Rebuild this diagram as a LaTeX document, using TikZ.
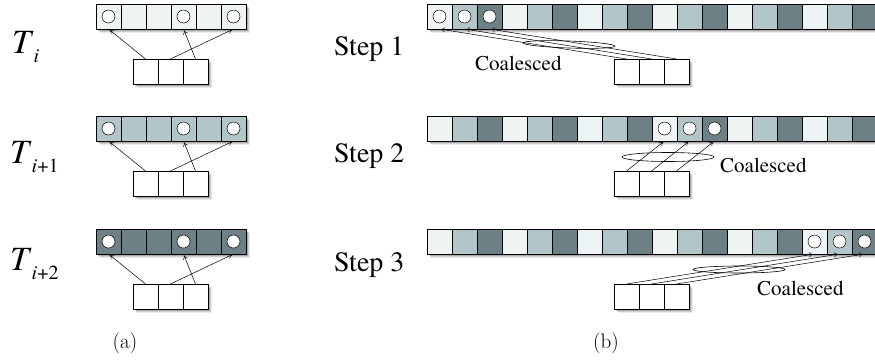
\documentclass[tikz,border=0pt]{standalone}
\usepackage{fontspec}
\setmainfont{texgyretermes}[Extension=.otf,UprightFont=*-regular,ItalicFont=*-italic,BoldFont=*-bold,BoldItalicFont=*-bolditalic]
\usetikzlibrary{arrows.meta}

\definecolor{shade0}{HTML}{EEF3F4}
\definecolor{shade1}{HTML}{B2C5C8}
\definecolor{shade2}{HTML}{6C8086}

% soft drop shadow behind a strip of cells: corners (x0,y0) and (x1,y1)
\newcommand\castshadow[4]{%
  \foreach \s/\o in {1/0.20,2/0.17,3/0.13,4/0.08}{%
    \fill[black,opacity=\o] ({#1+\s},{#2+\s}) rectangle ({#3+\s},{#4+\s});
  }%
}

\tikzset{
  cell/.style={draw=black,line width=0.6pt,minimum width=25pt,minimum height=25pt,
               inner sep=0pt,outer sep=0pt},
  dot/.style={circle,draw=black,fill=white,line width=0.5pt,minimum size=13pt,inner sep=0pt},
  link/.style={line width=0.5pt,-{To[length=4pt,width=5pt]},shorten >=1.5pt},
  ring/.style={line width=0.6pt},
  rowlabel/.style={anchor=base west,inner sep=0pt,font=\rmfamily\fontsize{28}{30}\selectfont},
  tlabel/.style={anchor=base west,inner sep=0pt,font=\rmfamily\fontsize{34}{36}\selectfont},
  note/.style={anchor=base west,inner sep=0pt,font=\rmfamily\fontsize{21}{23}\selectfont},
  caption/.style={inner sep=0pt,font=\fontfamily{lmr}\fontsize{21}{23}\selectfont}
}

\begin{document}
\begin{tikzpicture}[x=1pt,y=-1pt]
\useasboundingbox (0,0) rectangle (875,360);
\clip (0,0) rectangle (875,360);

% ---------- (a): one thread block per time step ----------
\foreach \r/\yt/\col in {1/4/shade0,2/116/shade1,3/229/shade2}{
  \castshadow{96}{\yt}{246}{\yt+25}
  \castshadow{133}{\yt+55}{208}{\yt+80}
  \foreach \k in {0,...,5}
    \node[cell,fill=\col] (arr\r-\k) at ({108.5+25*\k},{\yt+12.5}) {};
  \foreach \k in {0,...,2}
    \node[cell,fill=white] (sm\r-\k) at ({145.5+25*\k},{\yt+67.5}) {};
  \node[dot] (adot\r-0) at (arr\r-0) {};
  \node[dot] (adot\r-3) at (arr\r-3) {};
  \node[dot] (adot\r-5) at (arr\r-5) {};
  \draw[link] (sm\r-0.north) -- (arr\r-0.south);
  \draw[link] (sm\r-1.north) -- (arr\r-5.south);
  \draw[link] (sm\r-2.north) -- (arr\r-3.south);
}

\node[tlabel] (ti0) at (12,53) {\textit{T}\raisebox{-9pt}{\fontsize{20}{20}\selectfont\textit{i}}};
\node[tlabel] (ti1) at (10,163) {\textit{T}\raisebox{-9pt}{\fontsize{20}{20}\selectfont\textit{i}+1}};
\node[tlabel] (ti2) at (10,270) {\textit{T}\raisebox{-9pt}{\fontsize{20}{20}\selectfont\textit{i}+2}};

% ---------- (b): coalesced accesses over three steps ----------
\foreach \r/\yt/\f in {1/4/0,2/116/9,3/229/15}{
  \castshadow{427}{\yt}{877}{\yt+25}
  \castshadow{614}{\yt+55}{689}{\yt+80}
  \foreach \k in {0,...,17}{
    \pgfmathtruncatemacro\m{mod(\k,3)}
    \node[cell,fill=shade\m] (row\r-\k) at ({439.5+25*\k},{\yt+12.5}) {};
  }
  \foreach \k in {0,1,2}{
    \pgfmathtruncatemacro\c{\f+\k}
    \node[cell,fill=white] (rsm\r-\k) at ({626.5+25*\k},{\yt+67.5}) {};
    \node[dot] (rdot\r-\k) at (row\r-\c) {};
    \draw[link] (rsm\r-\k.north) -- (row\r-\c.south);
  }
}

\draw[ring,rotate around={-2:(569,44.5)}] (569,44.5) ellipse [x radius=46,y radius=3.5];
\draw[ring] (668,157) ellipse [x radius=46,y radius=4.5];
\draw[ring] (739,269.5) ellipse [x radius=46,y radius=3.5];

\node[rowlabel] (st1) at (334,55) {Step 1};
\node[rowlabel] (st2) at (334,162) {Step 2};
\node[rowlabel] (st3) at (334,271) {Step 3};

\node[note] (co1) at (475,70) {Coalesced};
\node[note] (co2) at (720,172) {Coalesced};
\node[note] (co3) at (757,295) {Coalesced};

\node[caption] (capa) at (125,343) {(a)};
\node[caption] (capb) at (606,343) {(b)};
\end{tikzpicture}
\end{document}
